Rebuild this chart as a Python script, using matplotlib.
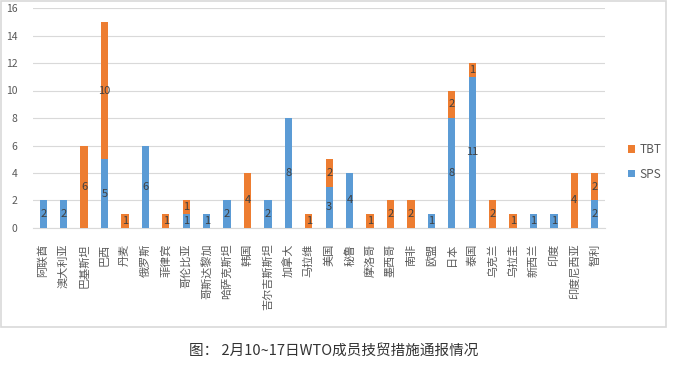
import matplotlib.pyplot as plt
from matplotlib.patches import Rectangle
import numpy as np

plt.rcParams['font.family'] = ['Noto Sans CJK SC', 'DejaVu Sans']

countries = ["阿联酋", "澳大利亚", "巴基斯坦", "巴西", "丹麦", "俄罗斯", "菲律宾", "哥伦比亚",
             "哥斯达黎加", "哈萨克斯坦", "韩国", "吉尔吉斯斯坦", "加拿大", "马拉维", "美国", "秘鲁",
             "摩洛哥", "墨西哥", "南非", "欧盟", "日本", "泰国", "乌克兰", "乌拉圭", "新西兰",
             "印度", "印度尼西亚", "智利"]
sps = [2, 2, 0, 5, 0, 6, 0, 1, 1, 2, 0, 2, 8, 0, 3, 4, 0, 0, 0, 1, 8, 11, 0, 0, 1, 1, 0, 2]
tbt = [0, 0, 6, 10, 1, 0, 1, 1, 0, 0, 4, 0, 0, 1, 2, 0, 1, 2, 2, 0, 2, 1, 2, 1, 0, 0, 4, 2]

blue = '#5B9BD5'
orange = '#ED7D31'
grey = '#595959'

fig = plt.figure(figsize=(6.74, 3.67), dpi=100)
ax = fig.add_axes([33/674, 1-228/367, 572/674, 220/367])

x = np.arange(len(countries))
w = 0.35
ax.bar(x, sps, width=w, color=blue, label='SPS', zorder=3)
ax.bar(x, tbt, width=w, bottom=sps, color=orange, label='TBT', zorder=3)

for i in range(len(countries)):
    if sps[i] > 0:
        ax.text(x[i], sps[i]/2, str(sps[i]), ha='center', va='center',
                fontsize=8, color='#404040', zorder=4)
    if tbt[i] > 0:
        ax.text(x[i], sps[i] + tbt[i]/2, str(tbt[i]), ha='center', va='center',
                fontsize=8, color='#404040', zorder=4)

ax.set_xlim(-0.5, len(countries)-0.5)
ax.set_ylim(0, 16)
ax.set_yticks(range(0, 17, 2))
ax.yaxis.grid(True, color='#D9D9D9', linewidth=0.8, zorder=0)
ax.set_xticks(x)
ax.set_xticklabels(countries, fontsize=8, color=grey, rotation=90, ha='center', va='top')
ax.tick_params(axis='y', labelsize=7.5, colors=grey, length=0, pad=11)
ax.tick_params(axis='x', length=0, pad=11)
for s in ['top', 'right', 'left']:
    ax.spines[s].set_visible(False)
ax.spines['bottom'].set_color('#D9D9D9')

h, l = ax.get_legend_handles_labels()
leg = fig.legend(h[::-1], l[::-1], loc='center left', bbox_to_anchor=(617/674, 1-162/367),
                 frameon=False, fontsize=8.5, handlelength=0.65, handleheight=0.65,
                 labelspacing=0.95, handletextpad=0.35)
for t in leg.get_texts():
    t.set_color(grey)

fig.patches.append(Rectangle((1/674, 1-327/367), 665/674, 326/367, transform=fig.transFigure,
                             fill=False, edgecolor='#D9D9D9', linewidth=1.2))

fig.text(334/674, 1-351/367, "图： 2月10~17日WTO成员技贸措施通报情况", ha='center', va='center',
         fontsize=10.5, color='#333333')

fig.savefig('out.png', dpi=100)
